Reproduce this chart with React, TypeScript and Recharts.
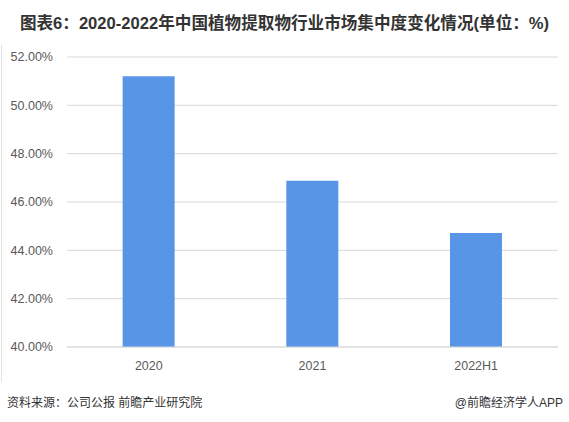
import React from "react"
import { BarChart, Bar, XAxis, YAxis, CartesianGrid } from "recharts"

// 市场集中度 (%)
const years = ["2020", "2021", "2022H1"]
const shares = [51.2, 46.88, 44.72]
const yTicks = [40, 42, 44, 46, 48, 50, 52]

const chartData = years.map((name, i) => ({ name, value: shares[i] }))

const cjk = '"Liberation Sans", "Noto Sans CJK SC", sans-serif'

export default function App() {
  return (
    <div
      style={{
        position: "absolute",
        left: 0,
        top: 0,
        width: 569,
        height: 422,
        background: "#fff",
        fontFamily: cjk,
      }}
    >
      <div
        style={{
          position: "absolute",
          left: 0,
          top: 10,
          width: 569,
          textAlign: "center",
          fontSize: 16.6,
          fontWeight: "bold",
          color: "#333",
          whiteSpace: "nowrap",
        }}
      >
        图表6：2020-2022年中国植物提取物行业市场集中度变化情况(单位：%)
      </div>

      {/* left frame line */}
      <div
        style={{
          position: "absolute",
          left: 1,
          top: 45,
          width: 1,
          height: 337,
          background: "#e2e2e2",
        }}
      />

      <div style={{ position: "absolute", left: 0, top: 0 }}>
        <BarChart
          width={569}
          height={422}
          data={chartData}
          margin={{ top: 57, right: 11, bottom: 45, left: 0 }}
          barCategoryGap="34%"
        >
          <CartesianGrid vertical={false} stroke="#d9d9d9" />
          <XAxis
            dataKey="name"
            height={30}
            tickLine={false}
            axisLine={{ stroke: "#d9d9d9" }}
            tickMargin={8}
            tick={{ fill: "#595959", fontSize: 12.5, fontFamily: cjk }}
          />
          <YAxis
            width={67}
            domain={[40, 52]}
            ticks={yTicks}
            axisLine={false}
            tickLine={false}
            tickMargin={8}
            tickFormatter={(v: number) => v.toFixed(2) + "%"}
            tick={{ fill: "#595959", fontSize: 12.5, fontFamily: cjk }}
          />
          <Bar dataKey="value" fill="#5895E6" isAnimationActive={false} />
        </BarChart>
      </div>

      <div
        style={{
          position: "absolute",
          left: 7,
          top: 393,
          fontSize: 12,
          color: "#333",
          whiteSpace: "nowrap",
        }}
      >
        资料来源：公司公报 前瞻产业研究院
      </div>
      <div
        style={{
          position: "absolute",
          right: 6,
          top: 393,
          fontSize: 12,
          color: "#333",
          whiteSpace: "nowrap",
        }}
      >
        @前瞻经济学人APP
      </div>
    </div>
  )
}
